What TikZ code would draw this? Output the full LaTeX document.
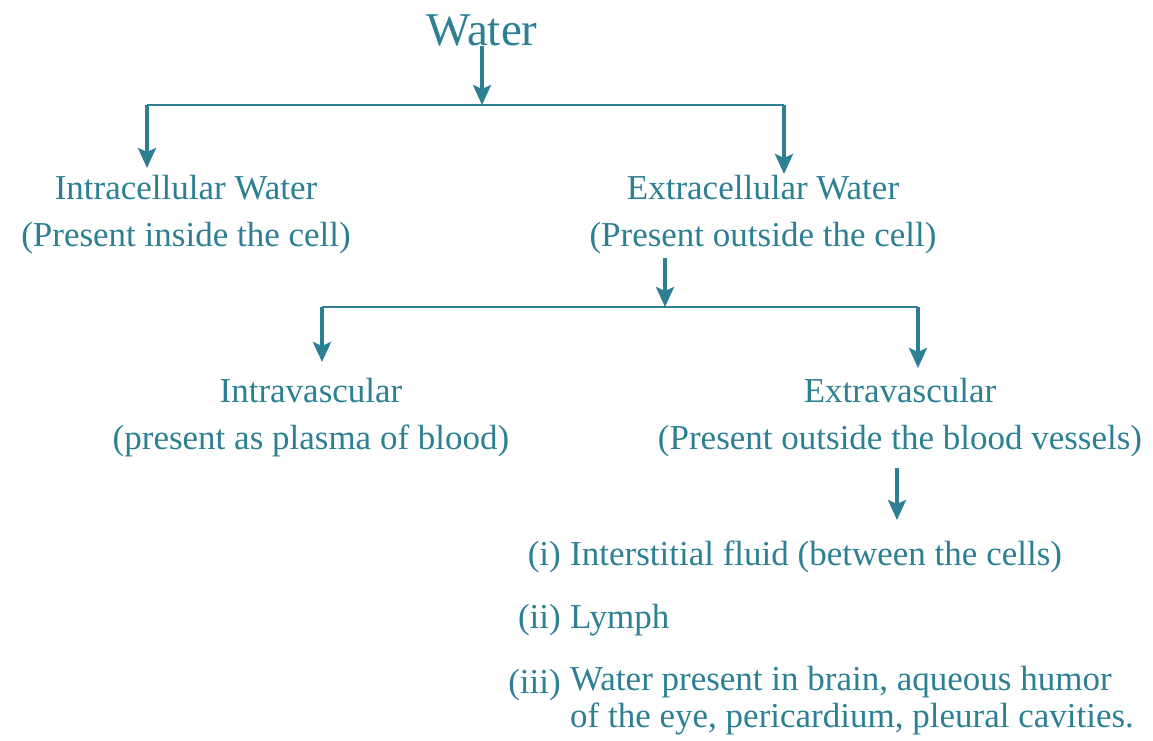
\documentclass[tikz,border=0pt]{standalone}
\usepackage{fontspec}
\setmainfont{Liberation Serif}
\definecolor{waterteal}{RGB}{45,128,148}
\usetikzlibrary{arrows.meta,positioning}

\begin{document}
\begin{tikzpicture}[x=1pt,y=1pt,
    txt/.style={text=waterteal, align=center, inner sep=0pt, font=\fontsize{35}{47}\selectfont},
    branch/.style={draw=waterteal, line width=2.6pt},
    down/.style={draw=waterteal, line width=3.4pt, -{Stealth[length=20pt,width=18pt,inset=4pt]}}]
    \useasboundingbox (0,0) rectangle (1153,-740);

    % top level
    \node[txt, font=\fontsize{47}{54}\selectfont] (water) at (482,-30) {Water};
    \coordinate (w1) at (482,-105);
    \coordinate (wl) at (147,-105);
    \coordinate (wr) at (784,-105);
    \coordinate (wlend) at (147,-168);
    \coordinate (wrend) at (784,-174);
    \node[txt] (intra) at (186,-215) {Intracellular Water\\(Present inside the cell)};
    \node[txt] (extra) at (763,-215) {Extracellular Water\\(Present outside the cell)};

    \draw[down] (water.south) -- (w1);
    \draw[branch] (wl) -- (wr);
    \draw[down] (wl) -- (wlend);
    \draw[down] (wr) -- (wrend);

    % extracellular split
    \coordinate (e0) at (665,-258);
    \coordinate (e1) at (665,-307);
    \coordinate (el) at (322,-307);
    \coordinate (er) at (918,-307);
    \coordinate (elend) at (322,-362);
    \coordinate (erend) at (918,-368);
    \node[txt] (ivasc) at (311,-418) {Intravascular\\(present as plasma of blood)};
    \node[txt] (evasc) at (900,-418) {Extravascular\\(Present outside the blood vessels)};

    \draw[down] (e0) -- (e1);
    \draw[branch] (el) -- (er);
    \draw[down] (el) -- (elend);
    \draw[down] (er) -- (erend);

    % list of extravascular water
    \coordinate (l0) at (897,-468);
    \coordinate (lst) at (897,-520);
    \draw[down] (l0) -- (lst);

    \node[txt, anchor=east] (n1) at (561,-557) {(i)};
    \node[txt, anchor=east] (n2) at (561,-620) {(ii)};
    \node[txt, anchor=east] (n3) at (561,-685) {(iii)};
    \node[txt, anchor=west] (i1) at (570,-557) {Interstitial fluid (between the cells)};
    \node[txt, anchor=west] (i2) at (570,-620) {Lymph};
    \node[txt, anchor=north west, align=left, font=\fontsize{35}{37}\selectfont] (i3) at (570,-666) {Water present in brain, aqueous humor\\of the eye, pericardium, pleural cavities.};
\end{tikzpicture}
\end{document}
